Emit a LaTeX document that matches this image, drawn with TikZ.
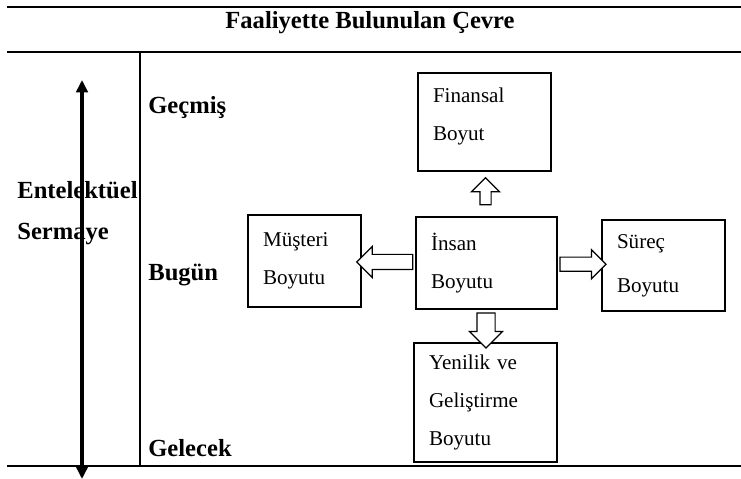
\documentclass[tikz,border=0pt]{standalone}
\usepackage{fontspec}
\setmainfont{Liberation Serif}
\usetikzlibrary{shapes.arrows,arrows.meta,calc}
\tikzset{
	boyut/.style={draw, line width=0.9pt, align=left, inner xsep=0.3cm, inner ysep=0pt, font=\fontsize{12}{21.5}\selectfont},
	donem/.style={anchor=west, inner sep=0pt, font=\fontsize{14}{23}\selectfont\bfseries},
	kalinok/.style={draw, single arrow, line width=0.7pt, fill=white, minimum width=0pt},
}

\begin{document}
\begin{tikzpicture}[x=0.02cm, y=-0.02cm]
	\useasboundingbox (0,0) rectangle (741,479);
	% cerceve
	\draw[line width=1.1pt] (7,7) -- (741,7);
	\draw[line width=1.1pt] (7,52) -- (741,52);
	\draw[line width=1.1pt] (7,466) -- (741,466);
	\draw[line width=0.6pt] (140,52) -- (140,466);
	\node[font=\fontsize{14}{16}\selectfont\bfseries] (baslik) at (370,23) {Faaliyette Bulunulan Çevre};
	% zaman ekseni
	\node[donem, align=left] (sermaye) at (17,213) {Entelektüel\\Sermaye};
	\node[donem] (gecmis) at (148,108) {Geçmiş};
	\node[donem] (bugun) at (148,275) {Bugün};
	\node[donem] (gelecek) at (148,448) {Gelecek};
	\coordinate (ust) at (82,80);
	\coordinate (alt) at (82,479);
	\draw[line width=2pt, {Triangle[length=7pt,width=6.5pt]}-{Triangle[length=7pt,width=6.5pt]}] (ust) -- (alt);
	% boyutlar
	\node[boyut, text width=2.06cm, minimum height=1.96cm] (finansal) at (484.5,122) {Finansal\\Boyut\\[-12.5pt]\mbox{}};
	\node[boyut, text width=2.22cm, minimum height=1.84cm] (insan) at (486.5,263) {İnsan\\Boyutu};
	\node[boyut, text width=1.66cm, minimum height=1.84cm] (musteri) at (304.5,261) {Müşteri\\Boyutu};
	\node[boyut, text width=1.86cm, minimum height=1.82cm, font=\fontsize{12}{25}\selectfont] (surec) at (663.5,265.5) {Süreç\\Boyutu};
	\node[boyut, text width=2.26cm, minimum height=2.38cm] (yenilik) at (485.5,402.5) {Yenilik ve\\Geliştirme\\Boyutu};
	\node[kalinok, shape border rotate=180, inner sep=0.14cm, single arrow head extend=0.16cm, minimum height=1.12cm] (ok1) at ($(insan.west)!0.5!(musteri.east)$) {};
	\node[kalinok, inner sep=0.13cm, single arrow head extend=0.15cm, minimum height=0.92cm] (ok2) at ($(insan.east)!0.5!(surec.west)$) {};
	\node[kalinok, shape border rotate=90, inner sep=0.1cm, single arrow head extend=0.17cm, minimum height=0.54cm] (ok3) at ($(insan.north)!0.5!(finansal.south)$) {};
	\node[kalinok, shape border rotate=270, inner sep=0.17cm, single arrow head extend=0.15cm, minimum height=0.7cm] (ok4) at ($(insan.south)!0.5!(yenilik.north)$) {};
\end{tikzpicture}
\end{document}
